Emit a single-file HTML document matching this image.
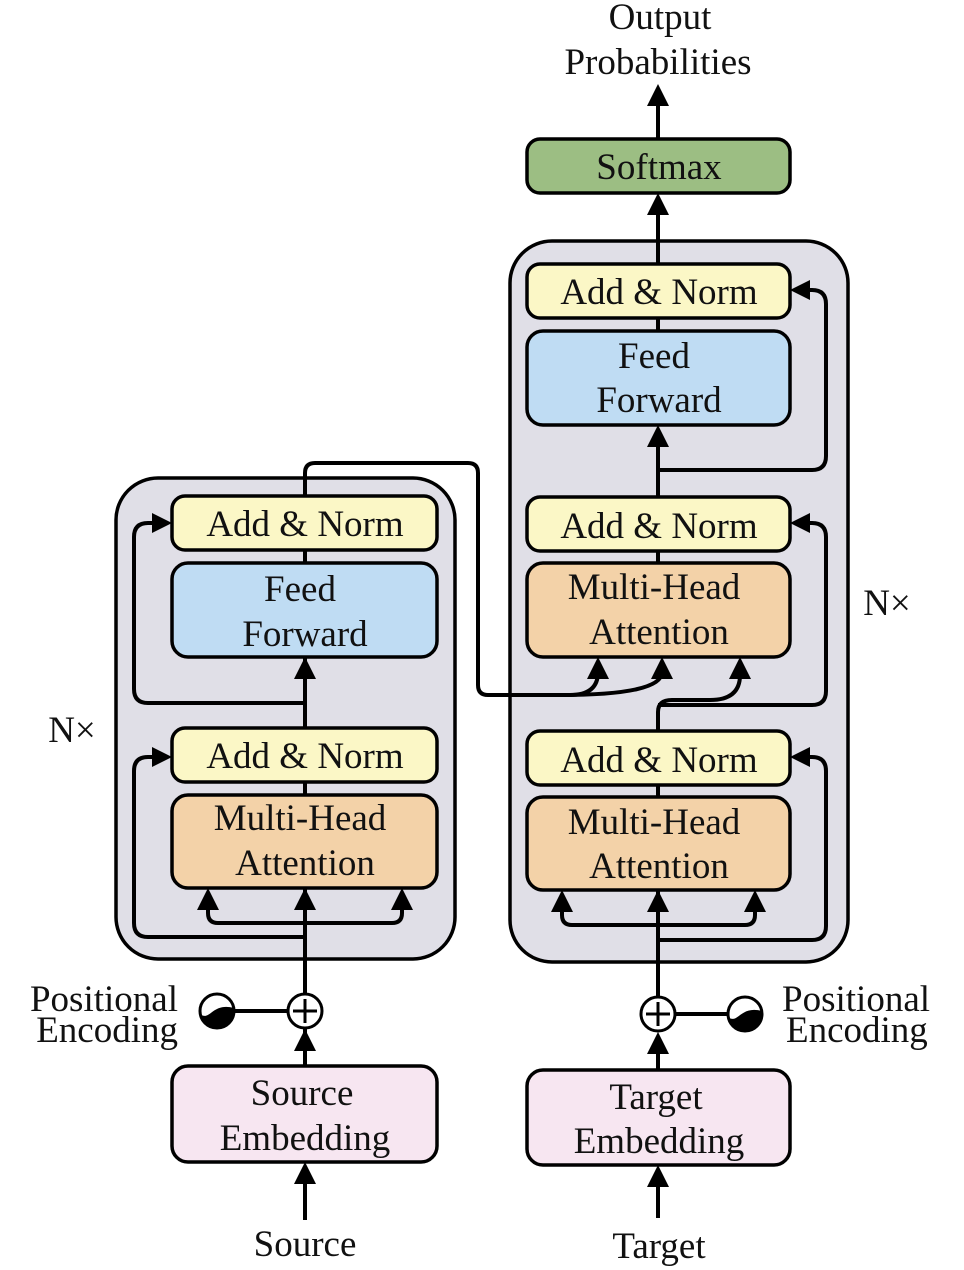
<!DOCTYPE html>
<html><head><meta charset="utf-8"><style>
html,body{margin:0;padding:0;background:#fff}
svg{display:block}
text{font-family:"Liberation Serif",serif;font-size:37px;fill:#111;text-anchor:middle}
</style></head><body>
<svg width="964" height="1270" viewBox="0 0 964 1270" xmlns="http://www.w3.org/2000/svg">
<g stroke="#000" stroke-width="3.5" fill="none">
<rect x="116" y="478" width="339" height="481" rx="42" fill="#e0dfe7"/>
<rect x="510" y="241" width="338" height="721" rx="42" fill="#e0dfe7"/>
</g>
<g stroke="#000" stroke-width="4" fill="none" stroke-linejoin="round">
<path d="M305 1045 V990"/>
<path d="M305 1027 V1045"/>
<path d="M305 992 V888"/>
<path d="M305 937 H148 Q134 937 134 923 V771 Q134 757 148 757 H160"/>
<path d="M208 905 V913 Q208 923 218 923 H392 Q402 923 402 913 V905"/>
<path d="M305 795 V782"/>
<path d="M305 728 V657"/>
<path d="M305 703 H148 Q134 703 134 689 V537 Q134 523 148 523 H160"/>
<path d="M305 563 V550"/>
<path d="M235 1011 H288"/>
<path d="M305 1220 V1180"/>
<path d="M305 1066 V1045"/>
<path d="M305 496 V473 Q305 463 315 463 H468 Q478 463 478 473 V685 Q478 695 488 695 H570 Q598 695 598 672"/>
<path d="M560 695 Q662 695 662 672"/>
<path d="M658 1218 V1184"/>
<path d="M658 1070 V1052"/>
<path d="M658 997 V890"/>
<path d="M658 940 H812 Q826 940 826 926 V771 Q826 757 812 757 H808"/>
<path d="M562 907 V915 Q562 925 572 925 H745 Q755 925 755 915 V907"/>
<path d="M658 797 V785"/>
<path d="M658 731 V712 Q658 700 672 700 H710 Q740 700 740 675"/>
<path d="M658 705 H812 Q826 705 826 691 V537 Q826 523 812 523 H808"/>
<path d="M658 563 V551"/>
<path d="M658 497 V443"/>
<path d="M658 470 H812 Q826 470 826 456 V304 Q826 290 812 290 H808"/>
<path d="M658 331 V318"/>
<path d="M658 264 V212"/>
<path d="M658 139 V104"/>
<path d="M676 1014 H728"/>
</g>
<g fill="#000">
<polygon points="305,888 294,910 316,910"/>
<polygon points="208,888 197,910 219,910"/>
<polygon points="402,888 391,910 413,910"/>
<polygon points="305,657 294,679 316,679"/>
<polygon points="305,1029 294,1051 316,1051"/>
<polygon points="305,1162 294,1184 316,1184"/>
<polygon points="172,523 152,513 152,533"/>
<polygon points="172,757 152,747 152,767"/>
<polygon points="598,657 587,679 609,679"/>
<polygon points="662,657 651,679 673,679"/>
<polygon points="740,657 729,679 751,679"/>
<polygon points="658,890 647,912 669,912"/>
<polygon points="562,890 551,912 573,912"/>
<polygon points="755,890 744,912 766,912"/>
<polygon points="658,1032 647,1054 669,1054"/>
<polygon points="658,1165 647,1187 669,1187"/>
<polygon points="658,425 647,447 669,447"/>
<polygon points="658,193 647,215 669,215"/>
<polygon points="658,84 647,106 669,106"/>
<polygon points="790,290 810,280 810,300"/>
<polygon points="790,523 810,513 810,533"/>
<polygon points="790,757 810,747 810,767"/>
</g>
<g stroke="#000" stroke-width="3.5">
<rect x="172" y="496" width="265" height="54" rx="13" fill="#fbf7c6"/>
<rect x="172" y="563" width="265" height="94" rx="16" fill="#bfdcf3"/>
<rect x="172" y="728" width="265" height="54" rx="13" fill="#fbf7c6"/>
<rect x="172" y="795" width="265" height="93" rx="16" fill="#f3d2a8"/>
<rect x="172" y="1066" width="265" height="96" rx="16" fill="#f7e6f1"/>
<rect x="527" y="139" width="263" height="54" rx="13" fill="#9cbe83"/>
<rect x="527" y="264" width="263" height="54" rx="13" fill="#fbf7c6"/>
<rect x="527" y="331" width="263" height="94" rx="16" fill="#bfdcf3"/>
<rect x="527" y="497" width="263" height="54" rx="13" fill="#fbf7c6"/>
<rect x="527" y="563" width="263" height="94" rx="16" fill="#f3d2a8"/>
<rect x="527" y="731" width="263" height="54" rx="13" fill="#fbf7c6"/>
<rect x="527" y="797" width="263" height="93" rx="16" fill="#f3d2a8"/>
<rect x="527" y="1070" width="263" height="95" rx="16" fill="#f7e6f1"/>
<circle cx="305" cy="1011" r="17" fill="#fff" stroke-width="3"/>
<circle cx="658" cy="1014" r="17" fill="#fff" stroke-width="3"/>
<path d="M293 1011 H317 M305 999 V1023 M646 1014 H670 M658 1002 V1026" stroke-width="3"/>
<circle cx="217" cy="1011" r="17" fill="#fff" stroke-width="3"/>
<circle cx="745" cy="1014" r="17" fill="#fff" stroke-width="3"/>
</g>
<path d="M200 1014 C210 1022 212 1002 234 1008 A17 17 0 0 1 200 1014 Z" fill="#000"/>
<path d="M728 1017 C738 1025 740 1005 762 1011 A17 17 0 0 1 728 1017 Z" fill="#000"/>
<text x="305" y="536">Add &amp; Norm</text>
<text x="300" y="601">Feed</text>
<text x="305" y="646">Forward</text>
<text x="305" y="768">Add &amp; Norm</text>
<text x="300" y="830">Multi-Head</text>
<text x="305" y="875">Attention</text>
<text x="302" y="1105">Source</text>
<text x="305" y="1150">Embedding</text>
<text x="305" y="1256">Source</text>
<text x="659" y="179">Softmax</text>
<text x="659" y="304">Add &amp; Norm</text>
<text x="654" y="368">Feed</text>
<text x="659" y="412">Forward</text>
<text x="659" y="538">Add &amp; Norm</text>
<text x="654" y="599">Multi-Head</text>
<text x="659" y="644">Attention</text>
<text x="659" y="772">Add &amp; Norm</text>
<text x="654" y="834">Multi-Head</text>
<text x="659" y="878">Attention</text>
<text x="656" y="1109">Target</text>
<text x="659" y="1153">Embedding</text>
<text x="659" y="1258">Target</text>
<text x="660" y="29">Output</text>
<text x="658" y="74">Probabilities</text>
<text x="72" y="742">N×</text>
<text x="887" y="615">N×</text>
<text x="178" y="1011" style="text-anchor:end">Positional</text>
<text x="178" y="1042" style="text-anchor:end">Encoding</text>
<text x="782" y="1011" style="text-anchor:start">Positional</text>
<text x="786" y="1042" style="text-anchor:start">Encoding</text>
</svg>
</body></html>
